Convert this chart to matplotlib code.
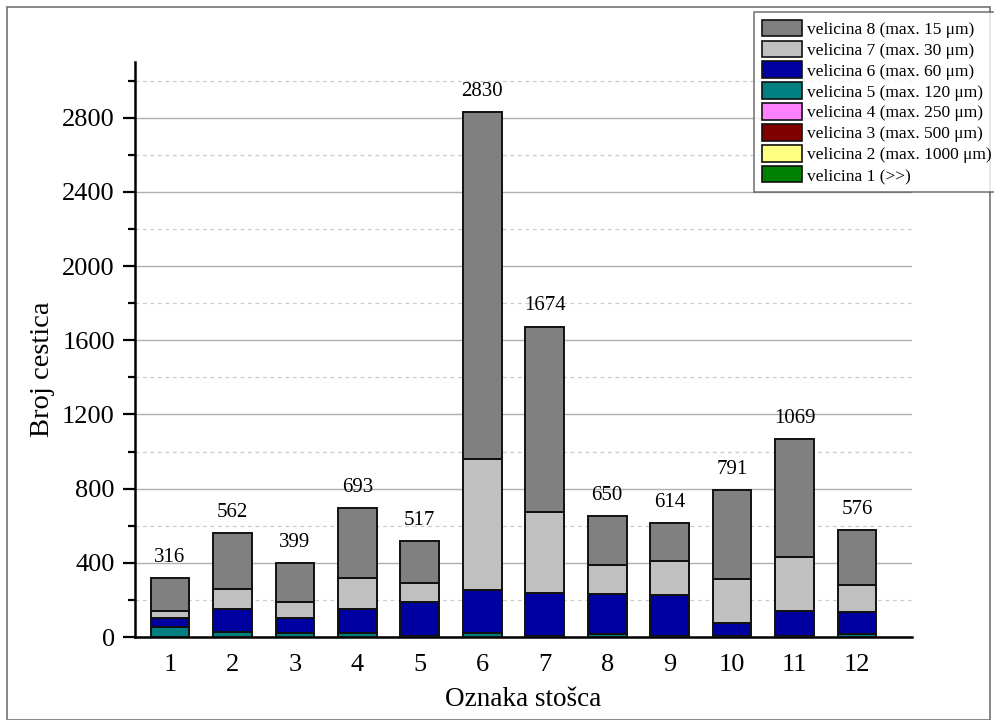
import numpy as np
import matplotlib.pyplot as plt
from matplotlib.patches import Patch, Rectangle
from matplotlib.ticker import MultipleLocator

plt.rcParams["font.family"] = ["Liberation Serif", "DejaVu Serif"]

stosci = np.arange(1, 13)
# counts per size class (velicina 1 .. 8), bottom to top
v1 = [0, 0, 0, 0, 0, 0, 0, 0, 0, 0, 0, 0]
v2 = [0, 0, 0, 0, 0, 0, 0, 0, 0, 0, 0, 0]
v3 = [0, 0, 0, 0, 0, 0, 0, 0, 0, 0, 0, 0]
v4 = [0, 0, 0, 0, 0, 0, 0, 0, 0, 0, 0, 0]
v5 = [52, 29, 23, 23, 8, 20, 8, 18, 8, 5, 5, 16]
v6 = [49, 120, 78, 128, 183, 232, 228, 214, 217, 72, 137, 119]
v7 = [39, 108, 90, 166, 99, 705, 438, 155, 187, 234, 291, 147]
v8 = [176, 305, 208, 376, 227, 1873, 1000, 263, 202, 480, 636, 294]
ukupno = [316, 562, 399, 693, 517, 2830, 1674, 650, 614, 791, 1069, 576]

nazivi = ["velicina 1 (>>)", "velicina 2 (max. 1000 \u03bcm)", "velicina 3 (max. 500 \u03bcm)",
          "velicina 4 (max. 250 \u03bcm)", "velicina 5 (max. 120 \u03bcm)", "velicina 6 (max. 60 \u03bcm)",
          "velicina 7 (max. 30 \u03bcm)", "velicina 8 (max. 15 \u03bcm)"]
boje = ["#008000", "#ffff80", "#800000", "#ff80ff", "#008080", "#0000a0", "#c0c0c0", "#808080"]

fig = plt.figure(figsize=(9.94, 7.2), dpi=100)
fig.patches.append(Rectangle((7 / 994, 0.0), 983 / 994, 713 / 720, transform=fig.transFigure,
                             fill=False, edgecolor="0.45", lw=1.2))
ax = fig.add_axes([135 / 994, 83 / 720, 777 / 994, 575 / 720])

dno = np.zeros(len(stosci))
for vals, boja in zip([v1, v2, v3, v4, v5, v6, v7, v8], boje):
    vals = np.array(vals, dtype=float)
    ax.bar(stosci, vals, bottom=dno, width=0.62, color=boja, edgecolor="#111111", lw=1.4, zorder=3)
    dno += vals

for x, t in zip(stosci, ukupno):
    ax.annotate(str(t), (x, t), xytext=(0, 8), textcoords="offset points",
                ha="center", va="bottom", fontsize=15)

ax.set_xlim(0.44, 12.88)
ax.set_ylim(0, 3100)
ax.yaxis.set_major_locator(MultipleLocator(400))
ax.yaxis.set_minor_locator(MultipleLocator(200))
ax.set_xticks(stosci)
ax.grid(True, which="major", axis="y", color="#b0b0b0", lw=1.0, zorder=0)
ax.grid(True, which="minor", axis="y", color="#cccccc", lw=0.9, ls=(0, (3, 3)), zorder=0)
ax.tick_params(axis="y", which="major", length=8.5, width=1.6, labelsize=19, pad=6)
ax.tick_params(axis="y", which="minor", length=5, width=1.6)
ax.tick_params(axis="x", length=0, labelsize=19, pad=12)
for s in ["top", "right"]:
    ax.spines[s].set_visible(False)
for s in ["left", "bottom"]:
    ax.spines[s].set_linewidth(1.8)

ax.set_ylabel("Broj cestica", fontsize=20.5)
ax.yaxis.set_label_coords(-0.103, 0.466)
ax.set_xlabel("Oznaka sto\u0161ca", fontsize=19.5, labelpad=8)

ruke = [Patch(facecolor=b, edgecolor="#111111", lw=1.2, label=n) for b, n in zip(boje, nazivi)][::-1]
leg = fig.legend(handles=ruke, loc="upper left", bbox_to_anchor=(754 / 994, 1 - 12 / 720),
                 fontsize=12.5, frameon=True, fancybox=False, edgecolor="0.35",
                 handlelength=2.3, handleheight=1.1, handletextpad=0.3, labelspacing=0.15,
                 borderpad=0.45, borderaxespad=0)
leg.get_frame().set_linewidth(1.2)

fig.savefig("out.png", dpi=100, facecolor="white")
